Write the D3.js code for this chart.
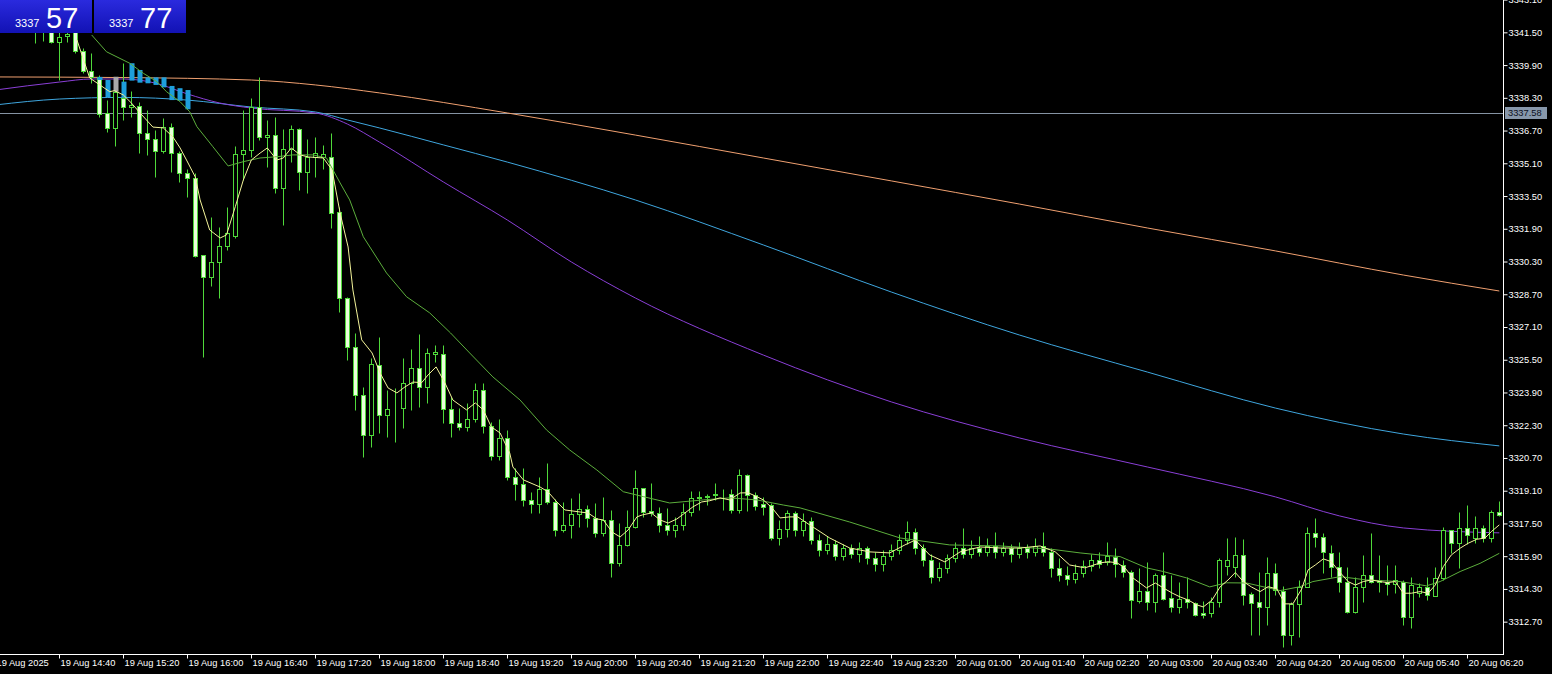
<!DOCTYPE html>
<html>
<head>
<meta charset="utf-8">
<script src="https://cdn.jsdelivr.net/npm/d3@7"></script>
<style>
  html, body { margin: 0; padding: 0; background: #000; }
  svg { display: block; }
  text { font-family: "Liberation Sans", Arial, sans-serif; }
</style>
</head>
<body>
<div id="chart"></div>
<script>
// XAUUSD M5, 19 Aug 14:00 -> 20 Aug 06:40
const open = [3342.6,3342.3,3342.7,3342.4,3342.1,3342.6,3341.9,3342.5,3341.05,3341.3,
  3341.6,3340.6,3339.62,3339.30,3337.54,3336.81,3338.28,3337.84,3337.90,3336.57,
  3336.27,3335.72,3336.89,3335.62,3334.64,3334.37,3330.62,3329.56,3330.26,3331.06,
  3331.57,3335.55,3335.75,3337.87,3336.37,3336.48,3333.88,3335.78,3336.76,3334.69,
  3335.42,3335.40,3335.40,3332.74,3328.5,3326.14,3323.78,3321.82,3325.24,3322.80,
  3323.12,3323.12,3324.35,3325.08,3324.15,3325.76,3325.77,3323.08,3322.40,3322.23,
  3322.59,3324.02,3322.26,3320.80,3321.66,3319.76,3319.43,3318.65,3318.45,3319.17,
  3318.57,3317.18,3317.42,3317.96,3318.21,3317.75,3317.02,3317.67,3315.55,3316.45,
  3317.34,3319.22,3318.12,3318.02,3317.42,3317.18,3317.42,3318.08,3318.73,3318.77,
  3318.93,3318.92,3318.92,3318.16,3319.87,3318.89,3318.45,3318.4,3316.78,3317.23,
  3318.0,3317.18,3317.6,3316.7,3316.2,3316.5,3315.9,3316.3,3316.0,3316.3,
  3315.8,3315.5,3315.9,3316.2,3316.7,3317.1,3316.3,3315.7,3314.9,3315.3,
  3315.8,3316.3,3316.0,3316.3,3316.1,3316.4,3316.1,3316.3,3316.0,3316.3,
  3316.1,3316.4,3316.1,3315.3,3315.0,3314.8,3315.1,3315.4,3315.7,3315.63,
  3315.88,3315.47,3315.14,3313.73,3314.22,3313.68,3314.98,3313.84,3313.43,3313.80,
  3313.6,3313.11,3313.11,3313.68,3315.40,3315.39,3315.96,3314.04,3313.68,3313.43,
  3315.07,3314.22,3312.05,3313.57,3314.41,3317.02,3316.86,3316.07,3315.36,3314.66,
  3313.19,3314.41,3314.98,3314.74,3314.66,3314.54,3314.66,3312.92,3314.09,3314.38,
  3313.96,3314.82,3317.18,3316.56,3317.26,3316.78,3317.26,3316.78,3318.08];
const high = [3343.0,3342.9,3343.0,3342.8,3342.9,3342.9,3342.9,3342.8,3341.6,3341.5,
  3342.0,3340.73,3340.49,3339.4,3338.2,3338.8,3339.99,3338.63,3338.11,3337.7,
  3336.73,3337.31,3337.07,3335.7,3334.8,3334.62,3330.62,3332.49,3332.0,3332.98,
  3335.95,3337.7,3338.28,3339.33,3337.22,3337.38,3336.76,3336.97,3336.81,3336.27,
  3336.37,3336.0,3336.6,3332.98,3328.58,3326.82,3324.18,3325.57,3326.63,3324.02,
  3324.1,3325.57,3326.01,3326.76,3326.06,3326.22,3326.22,3323.7,3323.13,3323.4,
  3324.38,3324.38,3322.47,3322.6,3322.07,3320.2,3320.2,3319.05,3319.79,3320.44,
  3318.68,3318.57,3318.73,3318.98,3318.4,3318.49,3318.81,3318.16,3317.51,3318.16,
  3320.11,3319.25,3319.46,3318.3,3318.24,3317.83,3318.5,3319.1,3319.08,3318.93,
  3319.5,3319.2,3319.17,3320.14,3319.9,3319.05,3318.8,3318.49,3317.67,3318.16,
  3318.1,3318.0,3317.8,3317.0,3316.9,3316.7,3316.5,3316.5,3316.6,3316.4,
  3316.1,3316.2,3316.5,3317.0,3317.6,3317.3,3316.5,3316.0,3315.6,3316.0,
  3316.6,3317.3,3316.7,3316.9,3316.8,3317.1,3316.6,3316.5,3316.6,3316.5,
  3316.8,3317.1,3316.3,3315.8,3315.4,3315.5,3315.7,3316.0,3316.1,3316.61,
  3316.29,3315.7,3315.23,3315.31,3315.63,3315.07,3316.12,3314.98,3314.66,3314.87,
  3313.68,3313.73,3313.92,3315.8,3316.78,3316.86,3316.73,3314.17,3315.14,3315.85,
  3315.55,3314.44,3313.68,3314.74,3317.32,3317.75,3317.05,3316.45,3316.12,3315.39,
  3314.9,3315.96,3317.02,3315.96,3315.47,3315.47,3314.74,3314.90,3314.58,3314.9,
  3315.39,3317.34,3317.18,3318.08,3318.41,3317.87,3317.43,3318.16,3318.62];
const low = [3342.0,3341.9,3342.2,3341.8,3341.7,3341.0,3341.1,3341.0,3339.17,3341.05,
  3340.5,3339.51,3339.02,3337.38,3336.64,3335.95,3337.22,3337.38,3335.59,3335.5,
  3334.45,3335.62,3334.69,3334.2,3333.47,3330.5,3325.65,3329.10,3328.5,3330.86,
  3331.44,3334.3,3335.42,3336.24,3334.93,3333.64,3332.09,3335.18,3333.80,3333.64,
  3334.45,3334.8,3331.92,3327.85,3325.49,3323.04,3320.76,3321.25,3321.91,3321.74,
  3321.5,3322.15,3323.05,3323.21,3323.37,3325.4,3322.4,3321.74,3322.07,3322.0,
  3322.47,3321.91,3320.6,3320.6,3319.6,3318.65,3318.35,3318.0,3318.02,3318.45,
  3316.89,3317.08,3316.78,3317.34,3317.34,3316.85,3316.9,3314.90,3315.4,3316.4,
  3317.26,3317.8,3317.86,3317.1,3316.94,3316.83,3317.2,3317.86,3318.16,3318.4,
  3318.65,3318.16,3318.0,3318.0,3318.1,3318.16,3317.9,3316.69,3316.45,3316.86,
  3316.9,3316.9,3316.5,3315.9,3316.0,3315.7,3315.7,3315.8,3315.6,3315.5,
  3315.2,3315.2,3315.7,3316.0,3316.5,3316.0,3315.4,3314.6,3314.7,3315.1,
  3315.6,3315.8,3315.8,3315.9,3315.9,3315.8,3315.9,3315.6,3315.8,3315.8,
  3315.9,3315.9,3314.9,3314.7,3314.5,3314.6,3314.9,3315.2,3315.3,3315.47,
  3314.90,3314.9,3312.87,3313.6,3313.27,3313.19,3313.76,3313.19,3313.11,3313.35,
  3312.98,3312.87,3312.94,3313.43,3315.0,3314.90,3313.52,3312.05,3312.05,3312.54,
  3314.0,3311.48,3311.56,3311.97,3314.4,3316.37,3315.07,3314.90,3314.17,3313.11,
  3313.11,3313.68,3314.58,3314.17,3314.0,3314.09,3312.54,3312.38,3313.9,3313.76,
  3313.96,3314.74,3316.04,3315.31,3316.5,3316.53,3316.6,3316.61,3317.84];
const close = [3342.3,3342.7,3342.4,3342.1,3342.6,3341.9,3342.5,3341.05,3341.25,3341.4,
  3340.6,3339.63,3339.30,3337.51,3336.81,3338.60,3337.84,3337.95,3336.57,3336.27,
  3335.72,3336.89,3335.62,3334.64,3334.37,3330.57,3329.56,3330.29,3331.06,3331.68,
  3335.55,3335.75,3337.87,3336.37,3336.50,3333.88,3335.78,3336.76,3334.69,3335.42,
  3335.62,3335.56,3332.69,3328.5,3326.14,3323.78,3321.82,3325.29,3322.80,3323.08,
  3323.13,3324.35,3325.08,3324.18,3325.82,3325.88,3323.08,3322.40,3322.23,3322.59,
  3324.02,3322.26,3320.80,3321.66,3319.76,3319.43,3318.65,3318.45,3319.17,3318.57,
  3317.18,3317.42,3317.96,3318.21,3317.75,3317.02,3317.67,3315.55,3316.45,3317.34,
  3319.22,3318.08,3318.02,3317.42,3317.18,3317.42,3318.08,3318.73,3318.77,3318.85,
  3318.88,3318.94,3318.16,3319.87,3318.89,3318.35,3318.32,3316.78,3317.23,3318.0,
  3317.18,3317.6,3316.7,3316.2,3316.5,3315.9,3316.3,3316.0,3316.3,3315.8,
  3315.5,3315.9,3316.2,3316.7,3317.1,3316.3,3315.7,3314.9,3315.3,3315.8,
  3316.3,3316.0,3316.3,3316.1,3316.4,3316.1,3316.3,3316.0,3316.3,3316.1,
  3316.4,3316.1,3315.3,3315.0,3314.8,3315.1,3315.4,3315.7,3315.5,3315.91,
  3315.52,3315.14,3313.76,3314.22,3313.68,3314.98,3313.80,3313.43,3313.80,3313.68,
  3313.03,3313.03,3313.68,3315.72,3315.72,3315.96,3314.01,3313.63,3313.43,3315.07,
  3314.25,3312.05,3313.57,3314.41,3317.02,3316.86,3316.12,3315.36,3314.66,3313.19,
  3314.41,3314.98,3314.66,3314.66,3314.54,3314.74,3312.92,3314.50,3314.41,3314.01,
  3314.82,3317.18,3316.56,3317.26,3316.94,3317.26,3316.78,3318.08,3317.92];

// moving averages as [bar, price]
const maFast = [[10.2,3341.13],[11.8,3339.27],[14.3,3338.60],[14.9,3338.65],[16,3338.44],[17,3338.05],
  [18.1,3337.56],[19.7,3336.87],[21,3336.83],[22.2,3336.39],[23.1,3335.85],[23.9,3335.26],[25,3334.43],
  [25.6,3333.31],[26.8,3331.84],[28.1,3331.45],[28.9,3331.60],[30,3332.98],[31,3334.28],[32,3335.26],
  [33.1,3335.60],[34,3335.85],[35.2,3335.26],[36,3335.36],[37,3335.85],[38.1,3335.51],[39.1,3335.41],
  [41,3335.36],[42.1,3334.77],[43.1,3332.67],[44.1,3331.01],[44.7,3328.91],[45.8,3326.47],[47.1,3325.83],
  [48.1,3324.85],[49.1,3324.12],[50.2,3323.88],[51.2,3324.17],[52.2,3324.41],[53.3,3324.38],[54.1,3324.76],
  [55.1,3325.15],[56.2,3324.37],[57.2,3323.53],[58.9,3323.05],[60,3323.39],[61,3323.05],[62,3322.22],
  [63.1,3321.92],[64.3,3320.95],[64.7,3320.26],[66,3319.63],[68.1,3319.28],[69.1,3319.04],[70.2,3318.55],
  [71.2,3318.16],[73.1,3318.06],[74.1,3318.01],[75.2,3317.72],[76,3317.67],[77.1,3317.08],[78.1,3316.84],
  [79.1,3317.18],[80.2,3317.82],[80.9,3317.92],[82,3318.01],[83.1,3317.67],[84.1,3317.52],[85.2,3317.72],
  [86.2,3318.01],[87.2,3318.31],[88.3,3318.55],[89.3,3318.61],[90.6,3318.75],[91.8,3318.65],[93.1,3318.99],
  [94.1,3319.00],[95.2,3318.81],[96,3318.65],[97.1,3318.26],[98.1,3317.77],[99.3,3317.82],[100.3,3317.82],
  [101.8,3317.43],[104.3,3316.79],[106.8,3316.30],[109.3,3316.11],[111.8,3316.06],[113.7,3316.45],
  [115,3316.69],[116.8,3315.96],[118.7,3315.62],[120.6,3316.11],[123.1,3316.35],[125.6,3316.30],
  [128.1,3316.30],[130.6,3316.40],[132.5,3316.11],[134.3,3315.47],[136.2,3315.33],[138.1,3315.57],
  [139.1,3315.63],[140.2,3315.58],[141.2,3315.33],[142.2,3314.84],[143.9,3314.35],[145,3314.59],
  [146,3314.35],[147.1,3314.10],[148.1,3313.91],[149.1,3313.76],[150.2,3313.52],[151,3313.42],
  [152.1,3313.76],[153.1,3314.40],[154.1,3314.74],[155,3315.10],[156,3314.66],[157,3314.40],
  [158.1,3314.17],[159.1,3314.41],[160.2,3314.30],[161.2,3313.57],[162.2,3313.57],[163.3,3314.30],
  [164.1,3315.23],[165,3315.47],[166,3315.77],[167,3315.63],[168,3315.15],[169.1,3314.66],[170,3314.49],
  [171,3314.66],[172,3314.74],[173.1,3314.66],[174,3314.61],[175,3314.66],[176,3314.09],[177,3314.09],
  [178.1,3314.17],[179.1,3314.09],[180,3314.49],[181,3315.39],[182,3315.96],[183.1,3316.29],
  [184.1,3316.53],[185.2,3316.73],[186.2,3316.78],[187,3317.10],[188,3317.43]];
const maMid = [[12.05,3341.37],[13.9,3340.55],[16.8,3339.99],[18.5,3339.50],[20.2,3339.09],[21.4,3338.60],
  [23.1,3338.11],[24.3,3337.62],[25.2,3336.89],[27.2,3335.91],[29.1,3334.97],[31,3335.18],[33.1,3335.36],
  [35.2,3335.42],[37.2,3335.51],[39.7,3335.51],[41.4,3335.36],[43.1,3334.14],[44.3,3333.31],[46,3331.51],
  [48.9,3329.74],[51.4,3328.58],[54.3,3327.79],[56.9,3326.81],[59.3,3325.83],[62.2,3324.66],[65.6,3323.53],
  [68.9,3322.07],[71.8,3321.09],[75.2,3320.11],[78.5,3319.05],[81,3318.81],[84.3,3318.50],[88.5,3318.65],
  [91.8,3318.75],[95.2,3318.65],[98.5,3318.40],[100.6,3318.26],[106.8,3317.57],[113.1,3316.79],
  [119.3,3316.45],[125.6,3316.40],[131.8,3316.25],[135.6,3316.06],[138.1,3315.96],[140.6,3315.88],
  [143.9,3315.33],[146,3315.15],[148.9,3314.84],[151.8,3314.40],[153.9,3314.60],[156.4,3314.59],
  [160.6,3314.22],[163.1,3314.41],[164.7,3314.66],[168.1,3314.90],[171.4,3314.74],[175.6,3314.66],
  [178.9,3314.45],[180.6,3314.66],[183.1,3315.15],[185.6,3315.55],[188,3316.04]];
const maOrange = [[0,3339.32],[16,3339.29],[32,3339.17],[40,3338.93],[48,3338.54],[64,3337.56],[80,3336.48],
  [96,3335.36],[112,3334.24],[128,3333.11],[144,3331.94],[160,3330.82],[176,3329.64],[188,3328.86]];
const maBlue = [[0,3337.95],[8,3338.24],[16,3338.32],[24,3338.19],[32,3337.85],[40,3337.61],[44,3337.22],
  [48,3336.83],[56,3336.0],[64,3335.16],[80,3333.31],[96,3331.11],[112,3328.81],[128,3326.71],[144,3324.90],
  [160,3323.14],[176,3321.87],[188,3321.29]];
const maPurple = [[0,3338.68],[8,3339.07],[12,3339.22],[16,3339.22],[20,3339.02],[24,3338.49],[28,3338.05],
  [32,3337.80],[40,3337.56],[44,3337.02],[48,3336.14],[56,3334.19],[64,3332.33],[72,3330.28],[80,3328.52],
  [96,3325.73],[112,3323.44],[128,3321.68],[144,3320.26],[160,3318.80],[168,3317.87],[176,3317.28],[188,3317.04]];

// indicator blocks near the top: [bar, top, bottom]
const blueBlocks = [[13,3339.32,3339.17],[14,3339.17,3338.33],[16,3339.09,3338.33],[17,3339.99,3339.14],
  [18,3339.66,3339.04],[19,3339.30,3339.01],[20,3339.30,3338.93],[21,3339.30,3338.81],[22,3338.88,3338.19],
  [23,3338.77,3338.16],[24,3338.68,3337.74]];
const grayBlocks = [[15,3339.33,3338.60]];

const timeLabels = ["19 Aug 2025","19 Aug 14:40","19 Aug 15:20","19 Aug 16:00","19 Aug 16:40","19 Aug 17:20",
  "19 Aug 18:00","19 Aug 18:40","19 Aug 19:20","19 Aug 20:00","19 Aug 20:40","19 Aug 21:20","19 Aug 22:00",
  "19 Aug 22:40","19 Aug 23:20","20 Aug 01:00","20 Aug 01:40","20 Aug 02:20","20 Aug 03:00","20 Aug 03:40",
  "20 Aug 04:20","20 Aug 05:00","20 Aug 05:40","20 Aug 06:20"];
const priceTicks = [3312.70,3314.30,3315.90,3317.50,3319.10,3320.70,3322.30,3323.90,3325.50,3327.10,
  3328.70,3330.30,3331.90,3333.50,3335.10,3336.70,3338.30,3339.90,3341.50,3343.10];
const hLine = 3337.58;
const bid = 3337.57, ask = 3337.77;

const W = 1552, H = 674;
const plotR = 1503, plotB = 654;

const x = d3.scaleLinear().domain([0, 188]).range([-4.7, 1499.3]);
const y = d3.scaleLinear().domain([3311.12, 3343.08]).range([plotB, 0]);
const px = k => Math.round(x(k)) + 0.5;
const py = v => Math.round(y(v)) + 0.5;

const svg = d3.select("#chart").append("svg").attr("width", W).attr("height", H);
svg.append("rect").attr("width", W).attr("height", H).attr("fill", "#000");

const defs = svg.append("defs");
defs.append("clipPath").attr("id", "plot").append("rect").attr("x", 0).attr("y", 0).attr("width", plotR).attr("height", plotB);
const grad = defs.append("linearGradient").attr("id", "boxGrad").attr("x1", 0).attr("y1", 0).attr("x2", 0).attr("y2", 1);
grad.append("stop").attr("offset", "0%").attr("stop-color", "#2a2ade");
grad.append("stop").attr("offset", "100%").attr("stop-color", "#1212b4");

const plot = svg.append("g").attr("clip-path", "url(#plot)");

// horizontal level
plot.append("line").attr("x1", 0).attr("x2", plotR).attr("y1", py(hLine)).attr("y2", py(hLine))
  .attr("stroke", "#8593a3").attr("stroke-width", 1);

// slow moving averages
const line = d3.line().x(d => x(d[0])).y(d => y(d[1])).curve(d3.curveMonotoneX);
plot.append("path").attr("d", line(maOrange)).attr("fill", "none").attr("stroke", "#f0a070").attr("stroke-width", 1);
plot.append("path").attr("d", line(maBlue)).attr("fill", "none").attr("stroke", "#3fa6de").attr("stroke-width", 1);
plot.append("path").attr("d", line(maPurple)).attr("fill", "none").attr("stroke", "#8a3fd6").attr("stroke-width", 1);

// candles
const bars = d3.range(open.length);
const green = "#4fd93a";
plot.append("g").selectAll("line").data(bars).join("line")
  .attr("x1", k => px(k)).attr("x2", k => px(k))
  .attr("y1", k => py(high[k])).attr("y2", k => py(low[k]))
  .attr("stroke", green).attr("stroke-width", 1);
plot.append("g").selectAll("rect").data(bars).join("rect")
  .attr("x", k => px(k) - 2).attr("width", 4)
  .attr("y", k => py(Math.max(open[k], close[k])))
  .attr("height", k => Math.max(0, py(Math.min(open[k], close[k])) - py(Math.max(open[k], close[k]))))
  .attr("fill", k => close[k] < open[k] ? "#eaffdc" : "#000")
  .attr("stroke", green).attr("stroke-width", 1);

// indicator blocks
plot.append("g").selectAll("rect").data(blueBlocks).join("rect")
  .attr("x", d => px(d[0]) - 2).attr("width", 5)
  .attr("y", d => y(d[1])).attr("height", d => y(d[2]) - y(d[1]))
  .attr("fill", "#1e9fdc");
plot.append("g").selectAll("rect").data(grayBlocks).join("rect")
  .attr("x", d => px(d[0]) - 2).attr("width", 5)
  .attr("y", d => y(d[1])).attr("height", d => y(d[2]) - y(d[1]))
  .attr("fill", "#a8a8a8");

// fast moving averages
const line2 = d3.line().x(d => x(d[0])).y(d => y(d[1]));
plot.append("path").attr("d", line2(maMid)).attr("fill", "none").attr("stroke", "#5cae3c").attr("stroke-width", 1);
plot.append("path").attr("d", line2(maFast)).attr("fill", "none").attr("stroke", "#f4f49a").attr("stroke-width", 1);

// axes
svg.append("line").attr("x1", plotR + 0.5).attr("x2", plotR + 0.5).attr("y1", 0).attr("y2", plotB + 1)
  .attr("stroke", "#fff");
svg.append("line").attr("x1", 0).attr("x2", plotR + 1).attr("y1", plotB + 0.5).attr("y2", plotB + 0.5)
  .attr("stroke", "#fff");

const yAxis = d3.axisRight(y).tickValues(priceTicks).tickFormat(d3.format(".2f")).tickSize(4).tickPadding(1);
const ya = svg.append("g").attr("transform", `translate(${plotR + 0.5},0)`).call(yAxis);
ya.select(".domain").remove();
ya.selectAll("line").attr("stroke", "#fff");
ya.selectAll("text").attr("fill", "#fff").attr("font-size", 9.3);

const xAxis = d3.axisBottom(x).tickValues(timeLabels.map((d, i) => i * 8))
  .tickFormat((d, i) => timeLabels[i]).tickSize(4);
const xa = svg.append("g").attr("transform", `translate(0,${plotB + 0.5})`).call(xAxis);
xa.select(".domain").remove();
xa.selectAll(".tick").attr("transform", d => `translate(${px(d)},0)`);
xa.selectAll("line").attr("stroke", "#fff");
xa.selectAll("text").attr("fill", "#fff").attr("font-size", 9.3)
  .attr("text-anchor", "start").attr("x", 1).attr("y", 5).attr("dy", "0.71em");

// price tag for the level
const tag = svg.append("g").attr("transform", `translate(${plotR + 2},${Math.round(y(hLine))})`);
tag.append("rect").attr("x", 0).attr("y", -6).attr("width", 42).attr("height", 12).attr("fill", "#8797aa");
tag.append("text").attr("x", 3).attr("y", 0).attr("dy", "0.35em").attr("font-size", 9.3).attr("fill", "#0c1020")
  .text(d3.format(".2f")(hLine));

// bid / ask boxes
const quotes = [bid, ask];
const qb = svg.append("g").selectAll("g").data(quotes).join("g")
  .attr("transform", (d, i) => `translate(${i * 94},0)`);
qb.append("rect").attr("width", 92).attr("height", 33).attr("fill", "url(#boxGrad)");
qb.append("text").attr("x", 15).attr("y", 27).attr("font-size", 11).attr("fill", "#fff")
  .text(d => d.toFixed(2).slice(0, 4));
qb.append("text").attr("x", 46).attr("y", 28).attr("font-size", 29).attr("fill", "#fff")
  .text(d => d.toFixed(2).slice(5));
</script>
</body>
</html>
